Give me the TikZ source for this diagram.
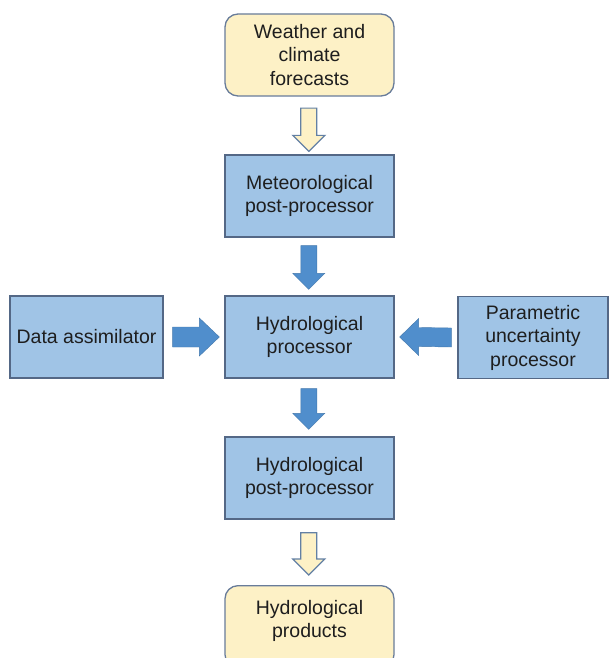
\documentclass[tikz,border=0pt]{standalone}
\usepackage{fontspec}
\setmainfont{Liberation Sans}
\usetikzlibrary{calc}
\definecolor{boxblue}{RGB}{160,196,230}
\definecolor{boxedge}{RGB}{84,104,134}
\definecolor{arrowblue}{RGB}{80,142,204}
\definecolor{boxyellow}{RGB}{253,241,198}
\definecolor{yedge}{RGB}{104,124,154}
\definecolor{txt}{RGB}{30,30,30}
\tikzset{
  every node/.style={font=\fontsize{19.5}{23.5}\selectfont, text=txt, align=center, inner sep=0pt},
  bluebox/.style={draw=boxedge, fill=boxblue, line width=1.3pt, minimum height=82pt},
  yellowbox/.style={draw=yedge, fill=boxyellow, line width=1.3pt, rounded corners=13pt, minimum width=169pt, minimum height=82pt},
  solidarrow/.style={fill=arrowblue, draw=arrowblue!85!black, line width=0.4pt},
  hollowarrow/.style={fill=boxyellow, draw=yedge!80!arrowblue, line width=1.2pt},
}
\newcommand{\downarrowshape}[3]{%
  \path[#1] ($(#2)+(-8,0)$) -- ($(#3)+(-8,-16)$) -- ($(#3)+(-16,-16)$) -- (#3)
    -- ($(#3)+(16,-16)$) -- ($(#3)+(8,-16)$) -- ($(#2)+(8,0)$) -- cycle;}
\begin{document}
\begin{tikzpicture}[x=1pt,y=-1pt]
\clip (0,0) rectangle (609,658);
\fill[white] (0,0) rectangle (609,658);

\node[yellowbox] (wx) at (309.5,55) {Weather and\\climate\\forecasts};
\node[bluebox, minimum width=169pt] (met) at (309.5,196) {Meteorological\\post-processor};
\node[bluebox, minimum width=169pt] (hyd) at (309.5,337) {Hydrological\\processor};
\node[bluebox, minimum width=153pt] (da) at (86.5,337) {Data assimilator};
\node[bluebox, minimum width=150pt] (par) at (533,337.5) {Parametric\\uncertainty\\processor};
\node[bluebox, minimum width=169pt] (post) at (309.5,478) {Hydrological\\post-processor};
\node[yellowbox, anchor=north] (prod) at (309.5,585) {};
\node at (309.5,621) {Hydrological\\products};

% vertical arrows
\coordinate (a1s) at ($(wx.south)+(-0.7,11.5)$);
\coordinate (a1t) at ($(met.north)+(-0.7,-3)$);
\downarrowshape{hollowarrow}{a1s}{a1t}
\coordinate (a2s) at ($(met.south)+(-0.7,8)$);
\coordinate (a2t) at ($(hyd.north)+(-0.7,-6)$);
\downarrowshape{solidarrow}{a2s}{a2t}
\coordinate (a3s) at ($(hyd.south)+(-0.7,10)$);
\coordinate (a3t) at ($(post.north)+(-0.7,-7)$);
\downarrowshape{solidarrow}{a3s}{a3t}
\coordinate (a4s) at ($(post.south)+(-0.7,13)$);
\coordinate (a4t) at ($(prod.north)+(-0.7,-10)$);
\downarrowshape{hollowarrow}{a4s}{a4t}

% horizontal arrows
\coordinate (h1s) at ($(da.east)+(9,0)$);
\coordinate (h1t) at ($(hyd.west)+(-5,0)$);
\path[solidarrow] ($(h1s)+(0,-10)$) -- ($(h1t)+(-20,-10)$) -- ($(h1t)+(-20,-19)$) -- (h1t)
  -- ($(h1t)+(-20,19)$) -- ($(h1t)+(-20,10)$) -- ($(h1s)+(0,10)$) -- cycle;
\coordinate (h2s) at ($(par.west)+(-6,0)$);
\coordinate (h2t) at ($(hyd.east)+(5,0)$);
\path[solidarrow] ($(h2s)+(0,-9.5)$) -- ($(h2t)+(19,-9.5)$) -- ($(h2t)+(19,-18.5)$) -- (h2t)
  -- ($(h2t)+(19,18.5)$) -- ($(h2t)+(19,9.5)$) -- ($(h2s)+(0,9.5)$) -- cycle;
\end{tikzpicture}
\end{document}
